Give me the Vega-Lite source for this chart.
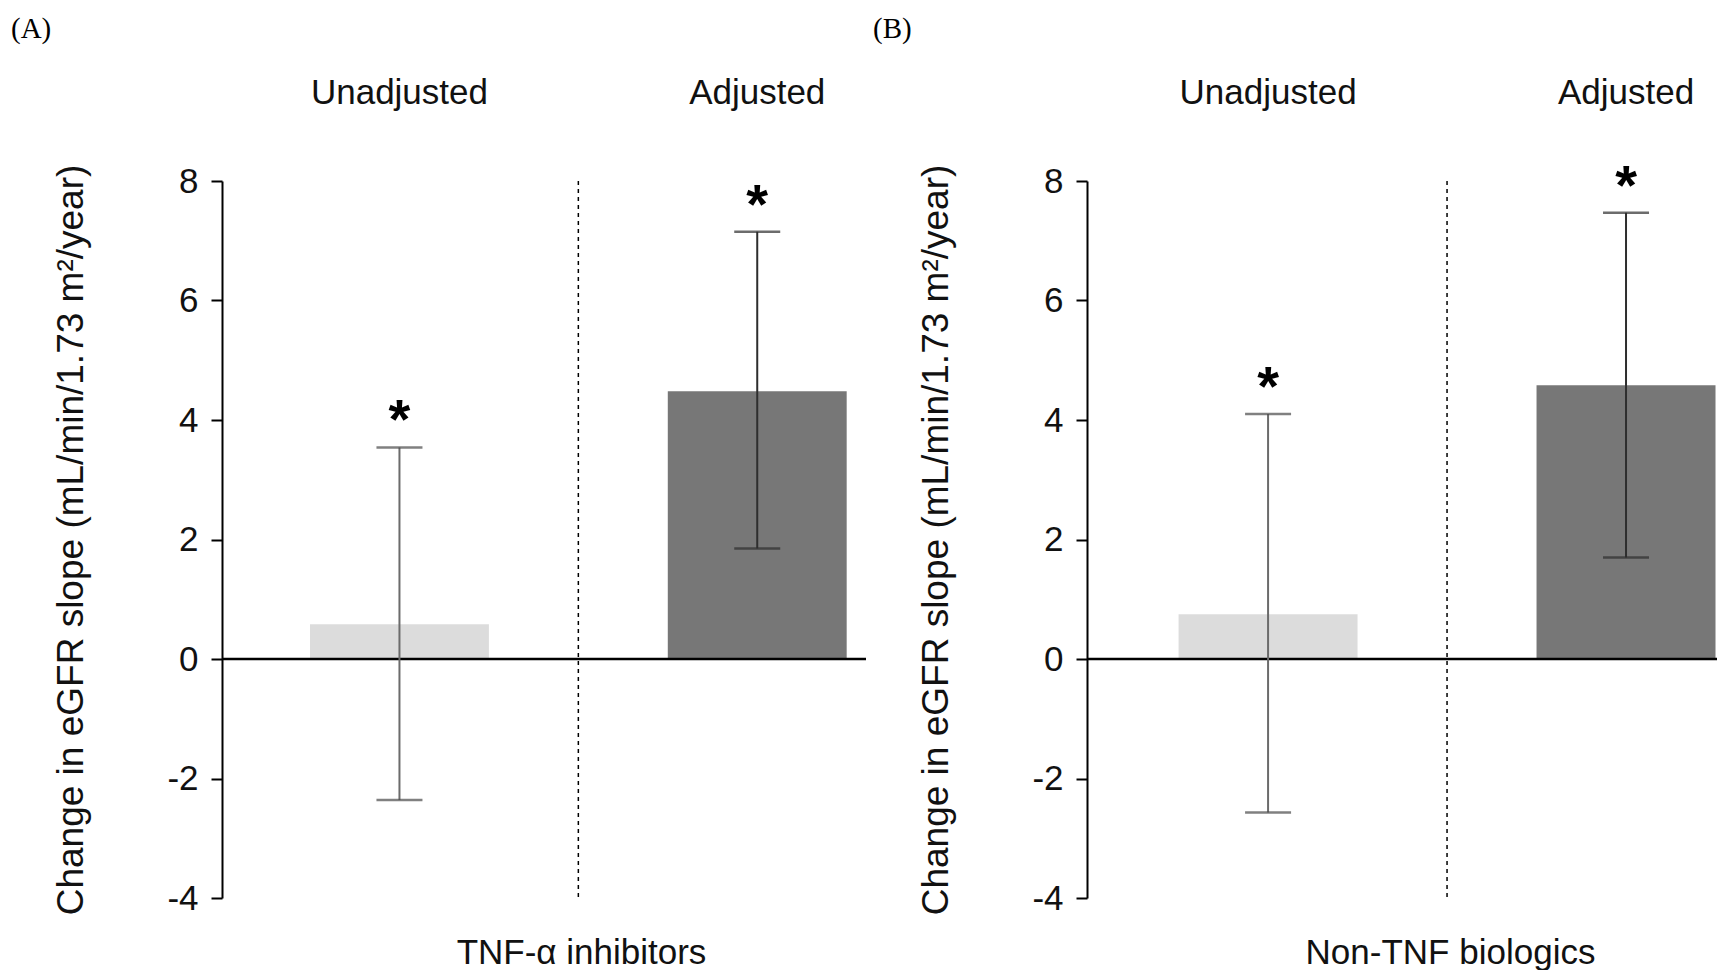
{
  "$schema": "https://vega.github.io/schema/vega-lite/v6.json",
  "background": "white",
  "padding": {"left": 11, "top": 15, "right": 0, "bottom": 0},
  "config": {"view": {"stroke": null}, "font": "Liberation Sans"},
  "datasets": {
    "bars": [
      {"panel": "A", "cat": "Unadjusted", "value": 0.58, "lo": -2.36, "hi": 3.54},
      {"panel": "A", "cat": "Adjusted", "value": 4.48, "lo": 1.85, "hi": 7.15},
      {"panel": "B", "cat": "Unadjusted", "value": 0.75, "lo": -2.57, "hi": 4.1},
      {"panel": "B", "cat": "Adjusted", "value": 4.58, "lo": 1.7, "hi": 7.47}
    ]
  },
  "bounds": "flush",
  "spacing": 221,
  "hconcat": [
    {
      "width": 644,
      "height": 717,
      "title": {"text": "(A)", "anchor": "start", "frame": "group", "dx": -211, "font": "Liberation Serif", "fontSize": 29, "fontWeight": "normal", "baseline": "alphabetic", "offset": 8, "color": "black"},
      "data": {"name": "bars"},
      "transform": [{"filter": "datum.panel == 'A'"}],
      "resolve": {"axis": {"x": "independent"}},
      "layer": [
        {
          "mark": {"type": "bar"},
          "encoding": {
            "x": {"field": "cat", "type": "nominal",
              "scale": {"domain": ["Unadjusted", "mid", "Adjusted"], "paddingInner": 0, "paddingOuter": 0.3, "align": 0.82},
              "axis": {"orient": "top", "title": null, "domain": false, "ticks": false, "tickSize": 0, "labelPadding": 78, "labelFontSize": 35, "labelFont": "Liberation Sans", "labelColor": "#111", "labelBaseline": "alphabetic", "labelAngle": 0, "labelLimit": 500, "labelExpr": "datum.value == 'mid' ? '' : datum.value"}},
            "y": {"field": "value", "type": "quantitative",
              "scale": {"domain": [-4, 8], "nice": false, "zero": false},
              "axis": {"values": [-4, -2, 0, 2, 4, 6, 8], "labelExpr": "'' + datum.value", "grid": false, "domainColor": "black", "domainWidth": 2, "tickColor": "black", "tickWidth": 2, "tickSize": 11, "labelPadding": 13, "labelFontSize": 35, "labelColor": "#111", "labelFont": "Liberation Sans", "title": "Change in eGFR slope (mL/min/1.73 m²/year)", "titleFontSize": 37, "titleFontWeight": "normal", "titleFont": "Liberation Sans", "titleColor": "#111", "titlePadding": 76}},
            "color": {"condition": {"test": "datum.cat == 'Adjusted'", "value": "#777777"}, "value": "#dcdcdc"}
          }
        },
        {
          "transform": [{"filter": "datum.cat == 'Unadjusted'"}],
          "mark": {"type": "rule", "color": "black", "strokeWidth": 2.5},
          "encoding": {"y": {"datum": 0}}
        },
        {
          "transform": [{"filter": "datum.cat == 'Unadjusted'"}],
          "mark": {"type": "rule", "color": "black", "strokeWidth": 1.5, "strokeDash": [4, 4]},
          "encoding": {
            "x": {"datum": "mid", "type": "nominal",
              "axis": {"orient": "bottom", "title": "TNF-α inhibitors", "labels": false, "ticks": false, "domain": false, "titleFontSize": 35, "titleFont": "Liberation Sans", "titleFontWeight": "normal", "titleColor": "#111", "titleX": 359, "titleY": 65, "titleAlign": "center", "titleBaseline": "alphabetic"}},
            "y": {"datum": 8},
            "y2": {"datum": -4}
          }
        },
        {
          "mark": {"type": "rule", "strokeWidth": 2},
          "encoding": {
            "x": {"field": "cat", "type": "nominal", "axis": null},
            "y": {"field": "lo", "type": "quantitative"},
            "y2": {"field": "hi"},
            "color": {"condition": {"test": "datum.cat == 'Adjusted'", "value": "#2e2e2e"}, "value": "#6b6b6b"}
          }
        },
        {
          "mark": {"type": "tick", "orient": "horizontal", "size": 46, "thickness": 2.5},
          "encoding": {
            "x": {"field": "cat", "type": "nominal", "axis": null},
            "y": {"field": "hi", "type": "quantitative"},
            "color": {"condition": {"test": "datum.cat == 'Adjusted'", "value": "#2e2e2e"}, "value": "#4a4a4a"}
          }
        },
        {
          "mark": {"type": "tick", "orient": "horizontal", "size": 46, "thickness": 2.5},
          "encoding": {
            "x": {"field": "cat", "type": "nominal", "axis": null},
            "y": {"field": "lo", "type": "quantitative"},
            "color": {"condition": {"test": "datum.cat == 'Adjusted'", "value": "#2e2e2e"}, "value": "#4a4a4a"}
          }
        },
        {
          "mark": {"type": "text", "text": "*", "fontSize": 56, "fontWeight": "bold", "baseline": "alphabetic", "align": "center", "dy": -9, "color": "black", "font": "Liberation Sans"},
          "encoding": {
            "x": {"field": "cat", "type": "nominal", "axis": null},
            "y": {"field": "hi", "type": "quantitative"}
          }
        }
      ]
    },
    {
      "width": 630,
      "height": 717,
      "title": {"text": "(B)", "anchor": "start", "frame": "group", "dx": -214, "font": "Liberation Serif", "fontSize": 29, "fontWeight": "normal", "baseline": "alphabetic", "offset": 8, "color": "black"},
      "data": {"name": "bars"},
      "transform": [{"filter": "datum.panel == 'B'"}],
      "resolve": {"axis": {"x": "independent"}},
      "layer": [
        {
          "mark": {"type": "bar"},
          "encoding": {
            "x": {"field": "cat", "type": "nominal",
              "scale": {"domain": ["Unadjusted", "mid", "Adjusted"], "paddingInner": 0, "paddingOuter": 0.26, "align": 0.984},
              "axis": {"orient": "top", "title": null, "domain": false, "ticks": false, "tickSize": 0, "labelPadding": 78, "labelFontSize": 35, "labelFont": "Liberation Sans", "labelColor": "#111", "labelBaseline": "alphabetic", "labelAngle": 0, "labelLimit": 500, "labelExpr": "datum.value == 'mid' ? '' : datum.value"}},
            "y": {"field": "value", "type": "quantitative",
              "scale": {"domain": [-4, 8], "nice": false, "zero": false},
              "axis": {"values": [-4, -2, 0, 2, 4, 6, 8], "labelExpr": "'' + datum.value", "grid": false, "domainColor": "black", "domainWidth": 2, "tickColor": "black", "tickWidth": 2, "tickSize": 11, "labelPadding": 13, "labelFontSize": 35, "labelColor": "#111", "labelFont": "Liberation Sans", "title": "Change in eGFR slope (mL/min/1.73 m²/year)", "titleFontSize": 37, "titleFontWeight": "normal", "titleFont": "Liberation Sans", "titleColor": "#111", "titlePadding": 76}},
            "color": {"condition": {"test": "datum.cat == 'Adjusted'", "value": "#777777"}, "value": "#dcdcdc"}
          }
        },
        {
          "transform": [{"filter": "datum.cat == 'Unadjusted'"}],
          "mark": {"type": "rule", "color": "black", "strokeWidth": 2.5},
          "encoding": {"y": {"datum": 0}}
        },
        {
          "transform": [{"filter": "datum.cat == 'Unadjusted'"}],
          "mark": {"type": "rule", "color": "black", "strokeWidth": 1.5, "strokeDash": [4, 4]},
          "encoding": {
            "x": {"datum": "mid", "type": "nominal",
              "axis": {"orient": "bottom", "title": "Non-TNF biologics", "labels": false, "ticks": false, "domain": false, "titleFontSize": 35, "titleFont": "Liberation Sans", "titleFontWeight": "normal", "titleColor": "#111", "titleX": 363, "titleY": 65, "titleAlign": "center", "titleBaseline": "alphabetic"}},
            "y": {"datum": 8},
            "y2": {"datum": -4}
          }
        },
        {
          "mark": {"type": "rule", "strokeWidth": 2},
          "encoding": {
            "x": {"field": "cat", "type": "nominal", "axis": null},
            "y": {"field": "lo", "type": "quantitative"},
            "y2": {"field": "hi"},
            "color": {"condition": {"test": "datum.cat == 'Adjusted'", "value": "#2e2e2e"}, "value": "#6b6b6b"}
          }
        },
        {
          "mark": {"type": "tick", "orient": "horizontal", "size": 46, "thickness": 2.5},
          "encoding": {
            "x": {"field": "cat", "type": "nominal", "axis": null},
            "y": {"field": "hi", "type": "quantitative"},
            "color": {"condition": {"test": "datum.cat == 'Adjusted'", "value": "#2e2e2e"}, "value": "#4a4a4a"}
          }
        },
        {
          "mark": {"type": "tick", "orient": "horizontal", "size": 46, "thickness": 2.5},
          "encoding": {
            "x": {"field": "cat", "type": "nominal", "axis": null},
            "y": {"field": "lo", "type": "quantitative"},
            "color": {"condition": {"test": "datum.cat == 'Adjusted'", "value": "#2e2e2e"}, "value": "#4a4a4a"}
          }
        },
        {
          "mark": {"type": "text", "text": "*", "fontSize": 56, "fontWeight": "bold", "baseline": "alphabetic", "align": "center", "dy": -9, "color": "black", "font": "Liberation Sans"},
          "encoding": {
            "x": {"field": "cat", "type": "nominal", "axis": null},
            "y": {"field": "hi", "type": "quantitative"}
          }
        }
      ]
    }
  ]
}
